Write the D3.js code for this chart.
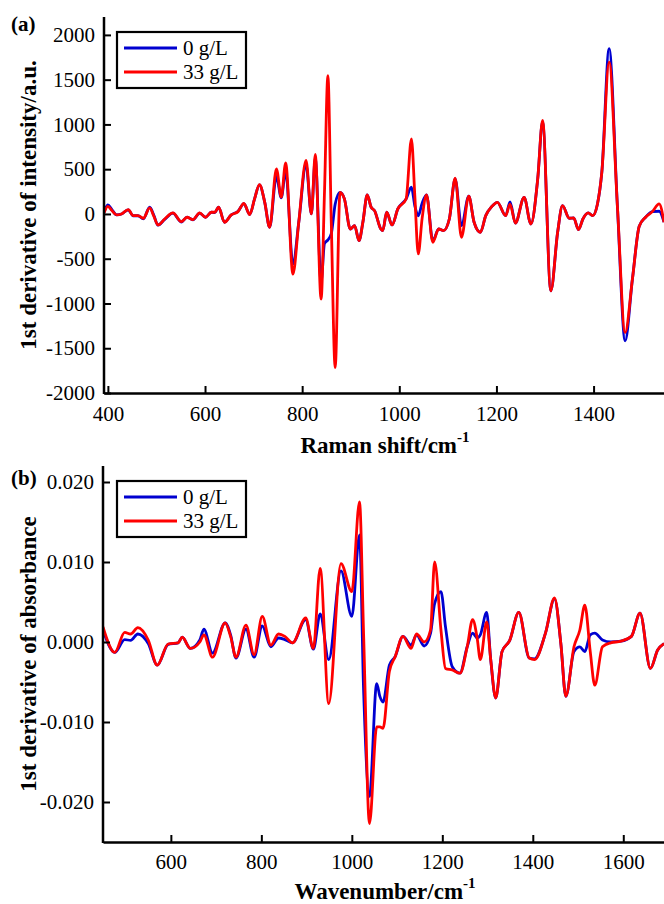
<!DOCTYPE html>
<html>
<head>
<meta charset="utf-8">
<script src="https://cdn.jsdelivr.net/npm/d3@7"></script>
<style>
  body { margin: 0; background: #fff; }
  svg text { font-family: "Liberation Serif", "Times New Roman", serif; fill: #000; }
</style>
</head>
<body>
<div id="chart"></div>
<script>
// panel (a) - Raman, first derivative
const ramanShift = [392, 400, 408, 418, 428, 442, 452, 462, 473, 486, 495, 503, 517, 534, 551, 563, 575, 589, 601, 613, 620, 628, 640, 654, 668, 680, 692, 702, 712, 723, 733, 747, 757, 766, 781, 793, 808, 819, 827, 839, 846, 853, 860, 868, 878, 887, 899, 908, 917, 925, 934, 942, 949, 962, 966, 974, 985, 997, 1014, 1025, 1032, 1039, 1047, 1056, 1069, 1081, 1091, 1103, 1115, 1128, 1143, 1154, 1167, 1178, 1190, 1202, 1219, 1228, 1239, 1257, 1271, 1285, 1295, 1312, 1326, 1336, 1350, 1359, 1369, 1378, 1389, 1398, 1408, 1417, 1432, 1449, 1465, 1480, 1494, 1507, 1521, 1535, 1545];
const raman0 = [20, 100, 50, -10, 0, 45, -20, -20, -55, 75, -20, -125, -60, 10, -90, -35, -65, 10, -37, 19, 15, 75, -93, -11, 30, 115, -7, 168, 325, 130, -149, 420, 180, 480, -560, -93, 550, 0, 620, -760, -330, -290, -220, 110, 240, 168, -168, -130, -298, -93, 213, 75, 37, -168, -186, 19, -123, 56, 168, 298, 90, -20, 120, 213, -300, -168, -186, -56, 391, -130, 198, -93, -205, -19, 80, 130, -19, 134, -101, 186, -112, 391, 1030, -858, -205, 93, -48, -45, -175, -56, 11, -19, 112, 466, 1846, 93, -1417, -727, -138, -37, 26, 30, -90];
const raman33 = [10, 85, 40, -11, 0, 48, -19, -19, -48, 67, -30, -123, -56, 11, -86, -37, -63, 11, -37, 19, 19, 75, -93, -11, 26, 119, -7, 168, 328, 130, -149, 504, 187, 571, -671, -93, 597, 0, 664, -951, 250, 1544, -100, -1716, 242, 168, -168, -130, -298, -93, 213, 75, 37, -168, -186, 19, -123, 56, 168, 839, 200, -447, -50, 213, -317, -168, -186, -56, 399, -261, 198, -93, -205, -19, 80, 130, -19, 110, -101, 186, -112, 391, 1044, -858, -205, 93, -48, -45, -175, -56, 11, -19, 112, 466, 1697, 93, -1324, -727, -138, -37, 26, 112, -93];
const ramanXTicks = [400, 600, 800, 1000, 1200, 1400];
const ramanYTicks = [-2000, -1500, -1000, -500, 0, 500, 1000, 1500, 2000];

// panel (b) - FTIR, first derivative
const waveNumber = [450, 476, 498, 511, 527, 550, 570, 594, 616, 625, 643, 664, 673, 692, 720, 732, 744, 766, 784, 802, 821, 838, 852, 869, 898, 915, 930, 949, 976, 1000, 1017, 1026, 1039, 1055, 1062, 1069, 1083, 1096, 1113, 1131, 1143, 1160, 1174, 1183, 1197, 1207, 1222, 1239, 1255, 1267, 1277, 1284, 1298, 1307, 1318, 1332, 1349, 1369, 1392, 1404, 1428, 1448, 1462, 1473, 1491, 1504, 1515, 1527, 1537, 1554, 1572, 1595, 1618, 1637, 1660, 1676, 1690];
const absorb0 = [0.0015, -0.0013, 0.0003, 0.0002, 0.0010, -0.0002, -0.0029, -0.0003, -0.0001, 0.0006, -0.0008, 0.00025, 0.0016, -0.0014, 0.0024, 0.0009, -0.0020, 0.0016, -0.0019, 0.0020, -0.0006, 0.0005, 0.0003, -0.0001, 0.0028, -0.0009, 0.0035, -0.0022, 0.0089, 0.0032, 0.0134, -0.0060, -0.0193, -0.0052, -0.0068, -0.0075, -0.0029, -0.0018, 0.0007, -0.0004, 0.0009, -0.0005, 0.0011, 0.0048, 0.0063, 0.0019, -0.0031, -0.0039, -0.0006, 0.0011, 0.0005, 0.0009, 0.0037, -0.0022, -0.0070, -0.0012, 0.0002, 0.0037, -0.0020, -0.0021, 0.0011, 0.0054, -0.0002, -0.0068, -0.0012, -0.0006, -0.0012, 0.0009, 0.0011, 0.00025, 0.0, 0.0001, 0.0007, 0.0036, -0.0033, -0.0010, -0.0002];
const absorb33 = [0.0019, -0.0013, 0.0012, 0.0010, 0.0018, 0.00025, -0.0029, -0.00025, -0.0001, 0.0006, -0.0008, 0.0, 0.0009, -0.0019, 0.0024, 0.0007, -0.0019, 0.0021, -0.0016, 0.0032, -0.0004, 0.0010, 0.0007, -0.0001, 0.0030, -0.0008, 0.0092, -0.0077, 0.0098, 0.0063, 0.0175, 0.0010, -0.0227, -0.0106, -0.0106, -0.0108, -0.0037, -0.0018, 0.0007, -0.0008, 0.0010, 0.0, 0.0015, 0.0100, 0.0015, -0.0033, -0.0035, -0.0039, -0.0006, 0.0028, 0.0005, -0.0022, 0.0025, -0.0022, -0.0070, -0.0012, 0.0002, 0.0037, -0.0020, -0.0022, 0.0011, 0.0055, -0.0002, -0.0068, -0.0006, 0.0015, 0.0046, -0.0012, -0.0054, -0.0006, -0.0001, 0.0001, 0.0007, 0.0036, -0.0033, -0.0010, -0.0002];
const waveXTicks = [600, 800, 1000, 1200, 1400, 1600];
const absorbYTicks = [-0.02, -0.01, 0, 0.01, 0.02];

const seriesNames = ["0 g/L", "33 g/L"];
const seriesColors = ["#0000d0", "#ff0000"];

const width = 664, height = 904;

const svg = d3.select("#chart").append("svg")
    .attr("width", width)
    .attr("height", height);

function drawPanel(opt) {
    const x = d3.scaleLinear().domain(opt.xDomain).range([opt.left, opt.right]);
    const y = d3.scaleLinear().domain(opt.yDomain).range([opt.bottom, opt.top]);
    const g = svg.append("g");

    g.append("clipPath").attr("id", opt.id + "clip")
        .append("rect")
        .attr("x", opt.left).attr("y", opt.top - 10)
        .attr("width", opt.right - opt.left).attr("height", opt.bottom - opt.top + 10);

    const line = d3.line()
        .x(d => x(d[0]))
        .y(d => y(d[1]))
        .curve(d3.curveMonotoneX);

    opt.series.forEach(function(s, i) {
        g.append("path")
            .datum(opt.xs.map((v, k) => [v, s[k]]))
            .attr("clip-path", "url(#" + opt.id + "clip)")
            .attr("fill", "none")
            .attr("stroke", seriesColors[i])
            .attr("stroke-width", 2.8)
            .attr("stroke-linejoin", "round")
            .attr("d", line);
    });

    const xAxis = g.append("g")
        .attr("transform", "translate(0," + opt.bottom + ")")
        .call(d3.axisBottom(x).tickValues(opt.xTicks).tickSizeInner(-7).tickSizeOuter(0)
            .tickPadding(opt.xPad).tickFormat(d3.format("d")));
    const yAxis = g.append("g")
        .attr("transform", "translate(" + opt.left + ",0)")
        .call(d3.axisLeft(y).tickValues(opt.yTicks).tickSizeInner(-7).tickSizeOuter(0)
            .tickPadding(9).tickFormat(opt.yFormat));

    [xAxis, yAxis].forEach(function(a) {
        a.attr("font-family", null);
        a.select(".domain").attr("stroke", "#000").attr("stroke-width", 2.5);
        a.selectAll(".tick line").attr("stroke", "#000").attr("stroke-width", 2);
        a.selectAll(".tick text").attr("font-size", 21);
    });
    yAxis.select(".domain").attr("d", "M0," + (opt.bottom + 1) + "V" + opt.top);

    // x label with superscript
    const xl = g.append("text")
        .attr("x", 385).attr("y", opt.xLabelY)
        .attr("text-anchor", "middle")
        .attr("font-size", 23).attr("font-weight", "bold")
        .text(opt.xLabel);
    xl.append("tspan").attr("font-size", 15).attr("dy", -11).text("-1");

    g.append("text")
        .attr("transform", "translate(36," + ((opt.top + opt.bottom) / 2) + ") rotate(-90)")
        .attr("text-anchor", "middle")
        .attr("font-size", 23).attr("font-weight", "bold")
        .text(opt.yLabel);

    g.append("text")
        .attr("x", 11).attr("y", opt.tagY)
        .attr("font-size", 21).attr("font-weight", "bold")
        .text(opt.tag);

    // legend
    const lg = g.append("g").attr("transform", "translate(117," + opt.legendY + ")");
    lg.append("rect").attr("width", 129).attr("height", 56)
        .attr("fill", "#fff").attr("stroke", "#000").attr("stroke-width", 2.2);
    seriesNames.forEach(function(n, i) {
        lg.append("line")
            .attr("x1", 7).attr("x2", 60)
            .attr("y1", 16 + i * 24).attr("y2", 16 + i * 24)
            .attr("stroke", seriesColors[i]).attr("stroke-width", 2.8);
        lg.append("text")
            .attr("x", 66).attr("y", 23 + i * 24)
            .attr("font-size", 21)
            .text(n);
    });
}

drawPanel({
    id: "a", tag: "(a)", tagY: 31,
    left: 104, right: 664, top: 17, bottom: 393,
    xDomain: [392, 1545], yDomain: [-2000, 2200],
    xs: ramanShift, series: [raman0, raman33],
    xTicks: ramanXTicks, yTicks: ramanYTicks, xPad: 13,
    yFormat: d => (d < 0 ? "-" : "") + Math.abs(d),
    xLabel: "Raman shift/cm", xLabelY: 453,
    yLabel: "1st derivative of intensity/a.u.",
    legendY: 32
});

drawPanel({
    id: "b", tag: "(b)", tagY: 485,
    left: 103, right: 664, top: 466, bottom: 842,
    xDomain: [450, 1690], yDomain: [-0.025, 0.022],
    xs: waveNumber, series: [absorb0, absorb33],
    xTicks: waveXTicks, yTicks: absorbYTicks, xPad: 12,
    yFormat: d => (d < 0 ? "-" : "") + Math.abs(d).toFixed(3),
    xLabel: "Wavenumber/cm", xLabelY: 899,
    yLabel: "1st derivative of absorbance",
    legendY: 481
});
</script>
</body>
</html>
